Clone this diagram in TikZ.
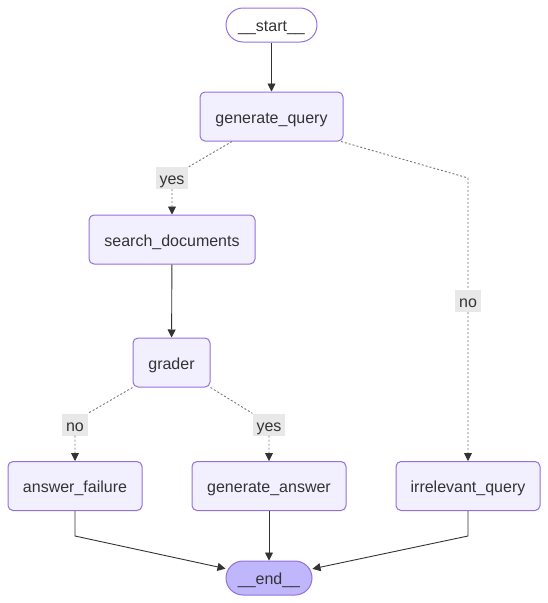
\documentclass[tikz,border=0pt]{standalone}
\usepackage{fontspec}
\setmainfont{Liberation Sans}
\usetikzlibrary{arrows.meta}
\definecolor{nodefill}{HTML}{F2F0FF}
\definecolor{nodeline}{HTML}{9370DB}
\definecolor{endfill}{HTML}{BFB6FC}
\definecolor{txt}{HTML}{333333}
\definecolor{lblfill}{HTML}{E8E8E8}
\definecolor{dotline}{HTML}{777777}
\begin{document}
\begin{tikzpicture}[x=1pt,y=-1pt,
  font=\fontsize{16}{19}\selectfont, text=txt,
  every node/.style={text height=15pt, text depth=2pt},
  box/.style={draw=nodeline, fill=nodefill, line width=1pt, rounded corners=5pt,
    minimum height=49pt, inner sep=0pt},
  term/.style={draw=nodeline, line width=1pt, rounded corners=17pt,
    minimum height=34pt, inner sep=0pt},
  lbl/.style={fill=lblfill, minimum height=22pt, inner xsep=4pt, inner ysep=0pt},
  tip/.style={-{Triangle[length=8pt,width=8pt,color=txt]}},
  solidedge/.style={draw=txt, line width=0.9pt, tip},
  dotedge/.style={draw=dotline, line width=0.9pt, dash pattern=on 2pt off 2pt, tip},
]
\useasboundingbox (0,0) rectangle (548,603);

% nodes
\node[term, minimum width=91pt] (st) at (271.5,25) {\_\_start\_\_};
\node[box, minimum width=143pt] (gq) at (271.5,116.5) {generate\_query};
\node[box, minimum width=166pt] (sd) at (172,239.5) {search\_documents};
\node[box, minimum width=77pt] (gr) at (171.5,362.5) {grader};
\node[box, minimum width=134pt] (af) at (75,486) {answer\_failure};
\node[box, minimum width=154pt] (ga) at (269,486) {generate\_answer};
\node[box, minimum width=144pt] (iq) at (468,486) {irrelevant\_query};
\node[term, fill=endfill, minimum width=86pt] (en) at (269,578) {\_\_end\_\_};

% edge labels
\node[lbl] (l1) at (172,178) {yes};
\node[lbl] (l2) at (468,301) {no};
\node[lbl] (l3) at (75,424.5) {no};
\node[lbl] (l4) at (269,424.5) {yes};

% bend points
\coordinate (b1) at (468,178);
\coordinate (b2) at (75,536);
\coordinate (b3) at (468,536);

% edges
\draw[solidedge] (st) -- (gq);
\draw[dotedge] ([xshift=-39.5pt]gq.south) -- (l1.north east) (l1) -- (sd);
\draw[dotedge] ([xshift=69.5pt]gq.south) -- (b1) -- (l2) (l2) -- (iq);
\draw[solidedge] (sd) -- (gr);
\draw[dotedge] (gr.south west) -- (l3.north east) (l3) -- (af);
\draw[dotedge] (gr.south east) -- (l4.north west) (l4) -- (ga);
\draw[solidedge] (af.south) -- (b2) -- (en);
\draw[solidedge] (ga) -- (en);
\draw[solidedge] (iq.south) -- (b3) -- (en);
\end{tikzpicture}
\end{document}
